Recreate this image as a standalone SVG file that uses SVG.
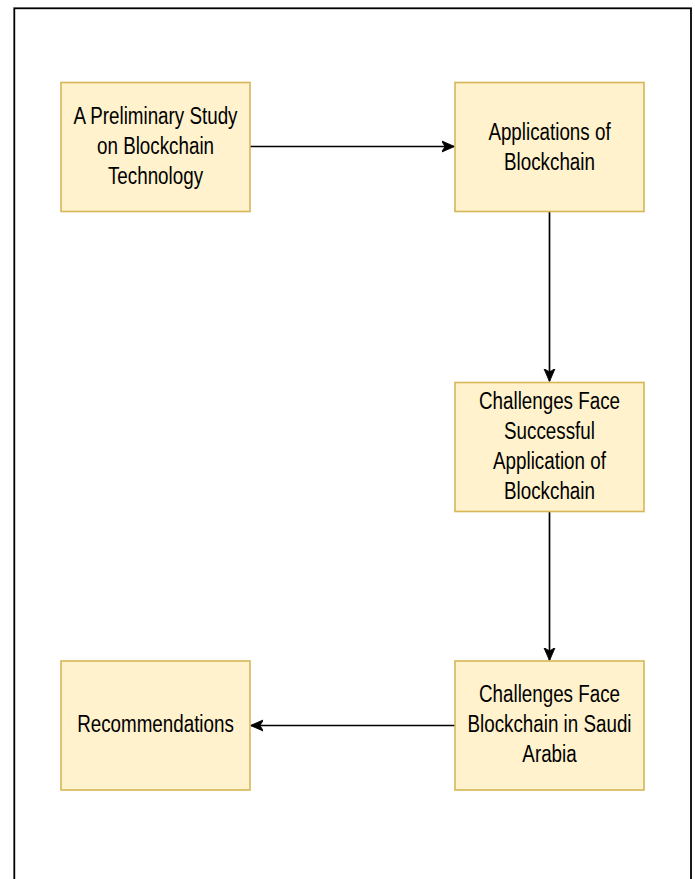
<svg xmlns="http://www.w3.org/2000/svg" width="695" height="879" viewBox="0 0 695 879">
  <style>
    .box { fill: #fff2cc; stroke: #d6b656; stroke-width: 1.6; }
    .lbl { font-family: "Liberation Sans", Arial, Helvetica, sans-serif; font-size: 18.8px; fill: #000; text-anchor: middle; }
    .edge { fill: none; stroke: #000; stroke-width: 1.7; }
  </style>
  <defs>
    <marker id="arrow" viewBox="0 0 12 12" refX="11.5" refY="6" markerWidth="13" markerHeight="13" markerUnits="userSpaceOnUse" orient="auto">
      <path d="M0,0.8 L12,6 L0,11.2 L3.2,6 Z" fill="#000" stroke="#000" stroke-width="0.8"/>
    </marker>
  </defs>
  <rect x="0" y="0" width="695" height="879" fill="#fff"/>
  <rect id="frame" x="14.3" y="8.3" width="676.7" height="900" fill="none" stroke="#000" stroke-width="1.8"/>

  <g id="connectors">
    <path class="edge" d="M250,146.5 L454,146.5" marker-end="url(#arrow)"/>
    <path class="edge" d="M549.5,211.5 L549.5,381" marker-end="url(#arrow)"/>
    <path class="edge" d="M549.5,511.5 L549.5,660" marker-end="url(#arrow)"/>
    <path class="edge" d="M455,725.5 L251,725.5" marker-end="url(#arrow)"/>
  </g>

  <g id="node-study">
    <rect class="box" x="61" y="82.5" width="189" height="129"/>
    <g transform="translate(155.5,146.5) scale(1,1.23)">
      <text class="lbl" x="0" y="-18.3">A Preliminary Study</text>
      <text class="lbl" x="0" y="6.1">on Blockchain</text>
      <text class="lbl" x="0" y="30.5">Technology</text>
    </g>
  </g>

  <g id="node-applications">
    <rect class="box" x="455" y="82.5" width="189" height="129"/>
    <g transform="translate(549.5,146.5) scale(1,1.23)">
      <text class="lbl" x="0" y="-5.7">Applications of</text>
      <text class="lbl" x="0" y="19.1">Blockchain</text>
    </g>
  </g>

  <g id="node-challenges-success">
    <rect class="box" x="455" y="382.5" width="189" height="129"/>
    <g transform="translate(549.5,446.5) scale(1,1.23)">
      <text class="lbl" x="0" y="-30.5">Challenges Face</text>
      <text class="lbl" x="0" y="-6.1">Successful</text>
      <text class="lbl" x="0" y="18.3">Application of</text>
      <text class="lbl" x="0" y="42.7">Blockchain</text>
    </g>
  </g>

  <g id="node-challenges-saudi">
    <rect class="box" x="455" y="661" width="189" height="129"/>
    <g transform="translate(549.5,725.5) scale(1,1.23)">
      <text class="lbl" x="0" y="-18.8">Challenges Face</text>
      <text class="lbl" x="0" y="5.6">Blockchain in Saudi</text>
      <text class="lbl" x="0" y="30">Arabia</text>
    </g>
  </g>

  <g id="node-recommendations">
    <rect class="box" x="61" y="661" width="189" height="129"/>
    <g transform="translate(155.5,725.5) scale(1,1.23)">
      <text class="lbl" x="0" y="5.3">Recommendations</text>
    </g>
  </g>
</svg>
